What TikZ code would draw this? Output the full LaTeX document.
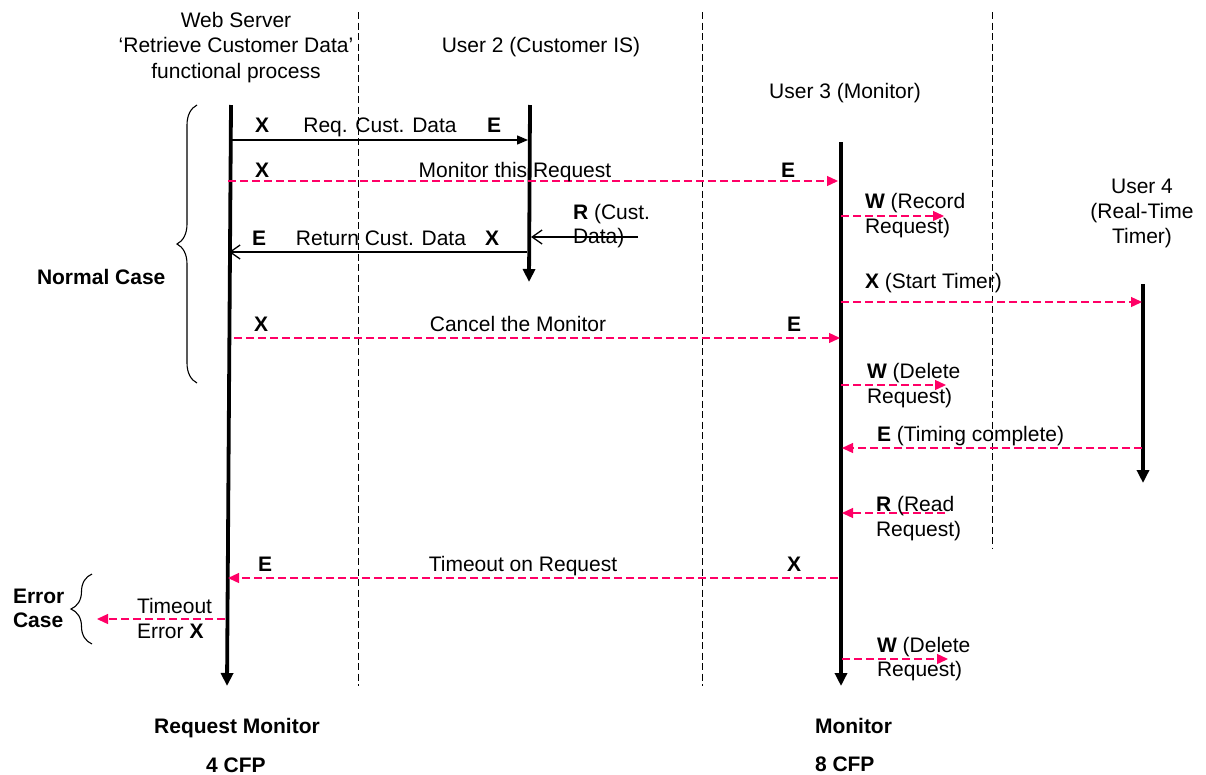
\documentclass[tikz,border=0pt]{standalone}
\usepackage{fontspec}
\setmainfont{Liberation Sans}
\usetikzlibrary{arrows.meta,decorations.pathreplacing}
\definecolor{msgpink}{RGB}{255,0,102}

\begin{document}
\begin{tikzpicture}[x=1pt,y=-1pt,
  every node/.style={inner sep=0pt, outer sep=0pt, font=\fontsize{21}{25}\selectfont},
  % multi-line texts are placed by the baseline of their last line
  lbl/.style={anchor=base west, align=left},
  lblc/.style={anchor=base, align=center},
  lifeline/.style={line width=3.8pt, -{Triangle[length=13pt,width=12pt]}},
  sepline/.style={line width=0.9pt, dash pattern=on 7pt off 3.5pt},
  callmsg/.style={line width=1.3pt, -{Triangle[length=11pt,width=9pt]}},
  retmsg/.style={line width=1.3pt, -{Straight Barb[length=10pt,width=14pt]}},
  pinkmsg/.style={draw=msgpink, line width=1.3pt, dash pattern=on 8pt off 4pt,
                  -{Triangle[length=11pt,width=10pt]}},
  casebrace/.style={line width=1.1pt, decorate, decoration={brace, amplitude=#1}},
  casebrace/.default=20pt,
]
\useasboundingbox (0,0) rectangle (1206,774);

% ---- column headers
\node[lblc, font=\fontsize{21}{25.5}\selectfont] (hws) at (236,78) {Web Server\\‘Retrieve Customer Data’\\functional process};
\node[lblc] (hu2) at (541,52) {User 2 (Customer IS)};
\node[lblc] (hu3) at (845,98) {User 3 (Monitor)};
\node[lblc] (hu4) at (1142,243) {User 4\\(Real-Time\\Timer)};

% ---- boundaries between the participants
\coordinate (s1t) at (358,12);  \coordinate (s1b) at (358,686);
\coordinate (s2t) at (702,12);  \coordinate (s2b) at (702,686);
\coordinate (s3t) at (992,12);  \coordinate (s3b) at (992,548);
\draw[sepline] (s1t) -- (s1b);
\draw[sepline] (s2t) -- (s2b);
\draw[sepline] (s3t) -- (s3b);

% ---- lifelines
\coordinate (wsT) at (231,105);  \coordinate (wsB) at (227,686);
\coordinate (u2T) at (530,105);  \coordinate (u2B) at (529,282);
\coordinate (u3T) at (841,142);  \coordinate (u3B) at (841,686);
\coordinate (u4T) at (1143,284); \coordinate (u4B) at (1143,483);
\draw[lifeline] (wsT) -- (wsB);
\draw[lifeline] (u2T) -- (u2B);
\draw[lifeline] (u3T) -- (u3B);
\draw[lifeline] (u4T) -- (u4B);

% ---- Req. Cust. Data
\coordinate (reqA) at (231,140); \coordinate (reqB) at (528,140);
\draw[callmsg] (reqA) -- (reqB);
\node[lbl] (reqX) at (255,132) {\textbf{X}};
\node[lblc] (reqL) at (380,132) {Req. Cust. Data};
\node[lbl] (reqE) at (487,132) {\textbf{E}};

% ---- Monitor this Request
\coordinate (monA) at (228,181); \coordinate (monB) at (838,181);
\draw[pinkmsg] (monA) -- (monB);
\node[lbl] (monX) at (255,177) {\textbf{X}};
\node[lblc] (monL) at (515,177) {Monitor this Request};
\node[lbl] (monE) at (781,177) {\textbf{E}};

% ---- Return Cust. Data
\coordinate (retA) at (527,252); \coordinate (retB) at (229,252);
\draw[retmsg] (retA) -- (retB);
\node[lbl] (retE) at (252,245) {\textbf{E}};
\node[lblc] (retL) at (381,245) {Return Cust. Data};
\node[lbl] (retX) at (485,245) {\textbf{X}};

% ---- R (Cust. Data)
\coordinate (rcA) at (638,237); \coordinate (rcB) at (531,237);
\node[lbl, font=\fontsize{21}{23.5}\selectfont] (rcL) at (573,243) {\textbf{R} (Cust.\\Data)};
\draw[retmsg] (rcA) -- (rcB);

% ---- W (Record Request)
\coordinate (wrA) at (841,216); \coordinate (wrB) at (944,216);
\draw[pinkmsg] (wrA) -- (wrB);
\node[lbl] (wrL) at (865,233) {\textbf{W} (Record\\Request)};

% ---- X (Start Timer)
\coordinate (stA) at (841,302); \coordinate (stB) at (1142,302);
\draw[pinkmsg] (stA) -- (stB);
\node[lbl] (stL) at (865,288) {\textbf{X} (Start Timer)};

% ---- Cancel the Monitor
\coordinate (canA) at (234,338); \coordinate (canB) at (840,338);
\draw[pinkmsg] (canA) -- (canB);
\node[lbl] (canX) at (254,331) {\textbf{X}};
\node[lblc] (canL) at (518,331) {Cancel the Monitor};
\node[lbl] (canE) at (787,331) {\textbf{E}};

% ---- W (Delete Request)
\coordinate (wdA) at (841,385); \coordinate (wdB) at (946,385);
\draw[pinkmsg] (wdA) -- (wdB);
\node[lbl] (wdL) at (867,403) {\textbf{W} (Delete\\Request)};

% ---- E (Timing complete)
\coordinate (tcA) at (1142,448); \coordinate (tcB) at (842,448);
\draw[pinkmsg] (tcA) -- (tcB);
\node[lbl] (tcL) at (877,441) {\textbf{E} (Timing complete)};

% ---- R (Read Request)
\coordinate (rrA) at (945,513); \coordinate (rrB) at (842,513);
\draw[pinkmsg] (rrA) -- (rrB);
\node[lbl] (rrL) at (876,536) {\textbf{R} (Read\\Request)};

% ---- Timeout on Request
\coordinate (toA) at (838,578); \coordinate (toB) at (228,578);
\draw[pinkmsg] (toA) -- (toB);
\node[lbl] (toE) at (258,571) {\textbf{E}};
\node[lblc] (toL) at (523,571) {Timeout on Request};
\node[lbl] (toX) at (787,571) {\textbf{X}};

% ---- Timeout Error
\coordinate (teA) at (225,619); \coordinate (teB) at (97,619);
\draw[pinkmsg] (teA) -- (teB);
\node[lbl] (teL) at (137,638) {Timeout\\Error \textbf{X}};

% ---- W (Delete Request), error path
\coordinate (wd2A) at (842,659); \coordinate (wd2B) at (948,659);
\draw[pinkmsg] (wd2A) -- (wd2B);
\node[lbl, font=\fontsize{21}{24}\selectfont] (wd2L) at (877,676) {\textbf{W} (Delete\\Request)};

% ---- case braces
\coordinate (nbB) at (197,383); \coordinate (nbT) at (197,105);
\draw[casebrace=20pt] (nbB) -- (nbT);
\node[lbl] (normal) at (37,284) {\textbf{Normal Case}};
\coordinate (ebB) at (92,644); \coordinate (ebT) at (92,574);
\draw[casebrace=21pt] (ebB) -- (ebT);
\node[lbl, font=\fontsize{21}{24}\selectfont\bfseries] (errc) at (13,627) {Error\\Case};

% ---- totals
\node[lblc, font=\fontsize{21}{25}\selectfont\bfseries] (fp1) at (237,733) {Request Monitor};
\node[lblc, font=\fontsize{21}{25}\selectfont\bfseries] (fp1n) at (236,772) {4 CFP};
\node[lbl, font=\fontsize{21}{25}\selectfont\bfseries] (fp2) at (815,733) {Monitor};
\node[lbl, font=\fontsize{21}{25}\selectfont\bfseries] (fp2n) at (815,771) {8 CFP};
\end{tikzpicture}
\end{document}
